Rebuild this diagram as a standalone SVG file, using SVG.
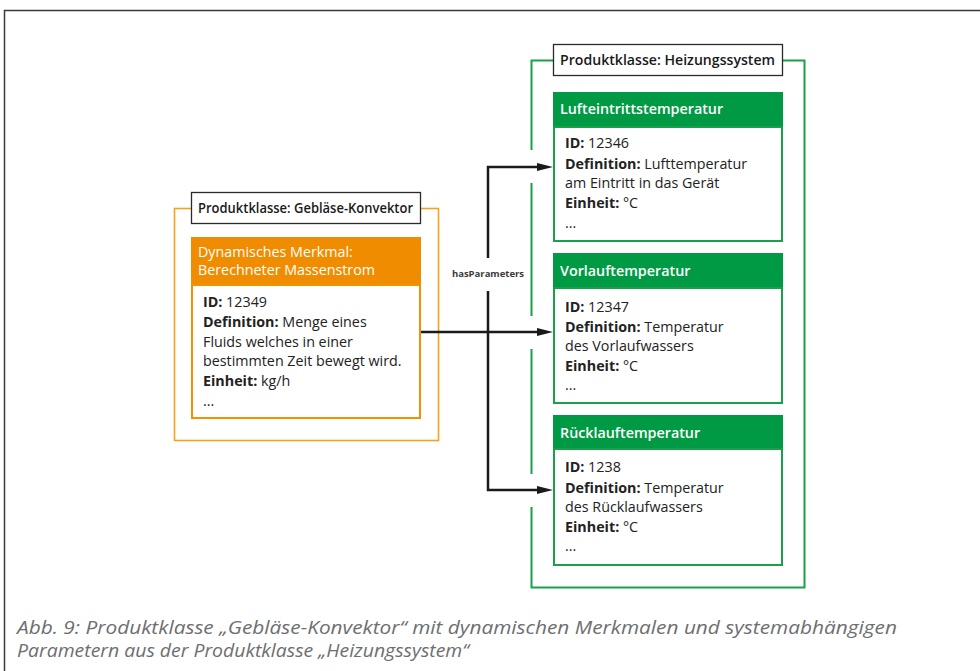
<svg xmlns="http://www.w3.org/2000/svg" width="980" height="671" viewBox="0 0 980 671">
  <style>
    .t { font-family: "Open Sans", "Noto Sans", "Liberation Sans", sans-serif; }
    .lbl { font-size: 13.5px; font-weight: 600; fill: #1a1a1a; }
    .hdr { font-size: 14.3px; font-weight: 600; fill: #ffffff; }
    .body { font-size: 14.3px; fill: #222222; }
    .b { font-weight: 700; }
    .conn { fill: none; stroke: #1a1a1a; stroke-width: 2.5; stroke-linejoin: miter; }
    .cap { font-family: "Open Sans", "Liberation Sans", sans-serif; font-style: italic; font-size: 18.5px; fill: #6d6e70; }
  </style>
  <defs>
    <marker id="arrow" markerUnits="userSpaceOnUse" markerWidth="16" markerHeight="8" refX="0" refY="4" orient="auto">
      <path d="M0,0 L16,4 L0,8 Z" fill="#1a1a1a"/>
    </marker>
  </defs>

  <rect width="980" height="671" fill="#ffffff"/>

  <!-- page frame -->
  <path d="M4.5,672 V10.5 H982" fill="none" stroke="#3a3a3a" stroke-width="1.5"/>

  <!-- class: Gebläse-Konvektor -->
  <g id="class-geblaese">
    <rect x="174.5" y="208.5" width="264" height="232" fill="none" stroke="#f6a11f" stroke-width="1.6"/>
    <rect x="191.5" y="192.5" width="229" height="31" fill="#ffffff" stroke="#2b2b2b" stroke-width="1.3"/>
    <text class="t lbl" x="198" y="212.5" textLength="215" lengthAdjust="spacingAndGlyphs">Produktklasse: Gebläse-Konvektor</text>
  </g>

  <g id="node-massenstrom">
    <rect x="191" y="237" width="230" height="48" fill="#f08c00"/>
    <rect x="192" y="285" width="228" height="133" fill="#ffffff" stroke="#f39200" stroke-width="2"/>
    <text class="t hdr" x="198" y="257" style="font-weight:500">Dynamisches Merkmal:</text>
    <text class="t hdr" x="198" y="275" style="font-weight:500">Berechneter Massenstrom</text>
    <text class="t body" x="203" y="307"><tspan class="b">ID:</tspan> 12349</text>
    <text class="t body" x="203" y="327"><tspan class="b">Definition:</tspan> Menge eines</text>
    <text class="t body" x="203" y="346.5">Fluids welches in einer</text>
    <text class="t body" x="203" y="366">bestimmten Zeit bewegt wird.</text>
    <text class="t body" x="203" y="386"><tspan class="b">Einheit:</tspan> kg/h</text>
    <text class="t body" x="203" y="405.5">...</text>
  </g>

  <!-- class: Heizungssystem -->
  <g id="class-heizung">
    <path d="M531.5,150 V60.5 H553 M783,60.5 H804.5 V587.5 H531.5 V507 M531.5,474 V349 M531.5,316 V183" fill="none" stroke="#1aa04b" stroke-width="2"/>
    <rect x="553.5" y="44.5" width="229" height="31" fill="#ffffff" stroke="#2b2b2b" stroke-width="1.3"/>
    <text class="t lbl" x="560" y="65" textLength="215" lengthAdjust="spacingAndGlyphs">Produktklasse: Heizungssystem</text>
  </g>

  <g id="node-lufteintritt">
    <rect x="553" y="92" width="230" height="35" fill="#009a44"/>
    <rect x="554" y="127" width="228" height="114" fill="#ffffff" stroke="#1aa04b" stroke-width="2"/>
    <text class="t hdr" x="560" y="114">Lufteintrittstemperatur</text>
    <text class="t body" x="565" y="148"><tspan class="b">ID:</tspan> 12346</text>
    <text class="t body" x="565" y="168.5"><tspan class="b">Definition:</tspan> Lufttemperatur</text>
    <text class="t body" x="565" y="188">am Eintritt in das Gerät</text>
    <text class="t body" x="565" y="208"><tspan class="b">Einheit:</tspan> °C</text>
    <text class="t body" x="565" y="227.5">...</text>
  </g>

  <g id="node-vorlauf">
    <rect x="553" y="253" width="230" height="35" fill="#009a44"/>
    <rect x="554" y="288" width="228" height="115" fill="#ffffff" stroke="#1aa04b" stroke-width="2"/>
    <text class="t hdr" x="560" y="276">Vorlauftemperatur</text>
    <text class="t body" x="565" y="312"><tspan class="b">ID:</tspan> 12347</text>
    <text class="t body" x="565" y="332"><tspan class="b">Definition:</tspan> Temperatur</text>
    <text class="t body" x="565" y="351">des Vorlaufwassers</text>
    <text class="t body" x="565" y="370.5"><tspan class="b">Einheit:</tspan> °C</text>
    <text class="t body" x="565" y="390">...</text>
  </g>

  <g id="node-ruecklauf">
    <rect x="553" y="415" width="230" height="34" fill="#009a44"/>
    <rect x="554" y="449" width="228" height="116" fill="#ffffff" stroke="#1aa04b" stroke-width="2"/>
    <text class="t hdr" x="560" y="438">Rücklauftemperatur</text>
    <text class="t body" x="565" y="472"><tspan class="b">ID:</tspan> 1238</text>
    <text class="t body" x="565" y="493"><tspan class="b">Definition:</tspan> Temperatur</text>
    <text class="t body" x="565" y="512">des Rücklaufwassers</text>
    <text class="t body" x="565" y="531.5"><tspan class="b">Einheit:</tspan> °C</text>
    <text class="t body" x="565" y="551">...</text>
  </g>

  <!-- hasParameters connectors -->
  <g id="connectors">
    <path class="conn" d="M421,332 H537" marker-end="url(#arrow)"/>
    <path class="conn" d="M488,258 V167 H537" marker-end="url(#arrow)"/>
    <path class="conn" d="M488,291 V490 H537" marker-end="url(#arrow)"/>
    <text class="t" x="488" y="277" text-anchor="middle" font-size="9.5" font-weight="700" fill="#3a3a3a">hasParameters</text>
  </g>

  <!-- caption -->
  <text class="cap" x="17" y="634" textLength="880" lengthAdjust="spacingAndGlyphs">Abb. 9: Produktklasse „Gebläse-Konvektor“ mit dynamischen Merkmalen und systemabhängigen</text>
  <text class="cap" x="17" y="657" textLength="452" lengthAdjust="spacingAndGlyphs">Parametern aus der Produktklasse „Heizungssystem“</text>
</svg>
